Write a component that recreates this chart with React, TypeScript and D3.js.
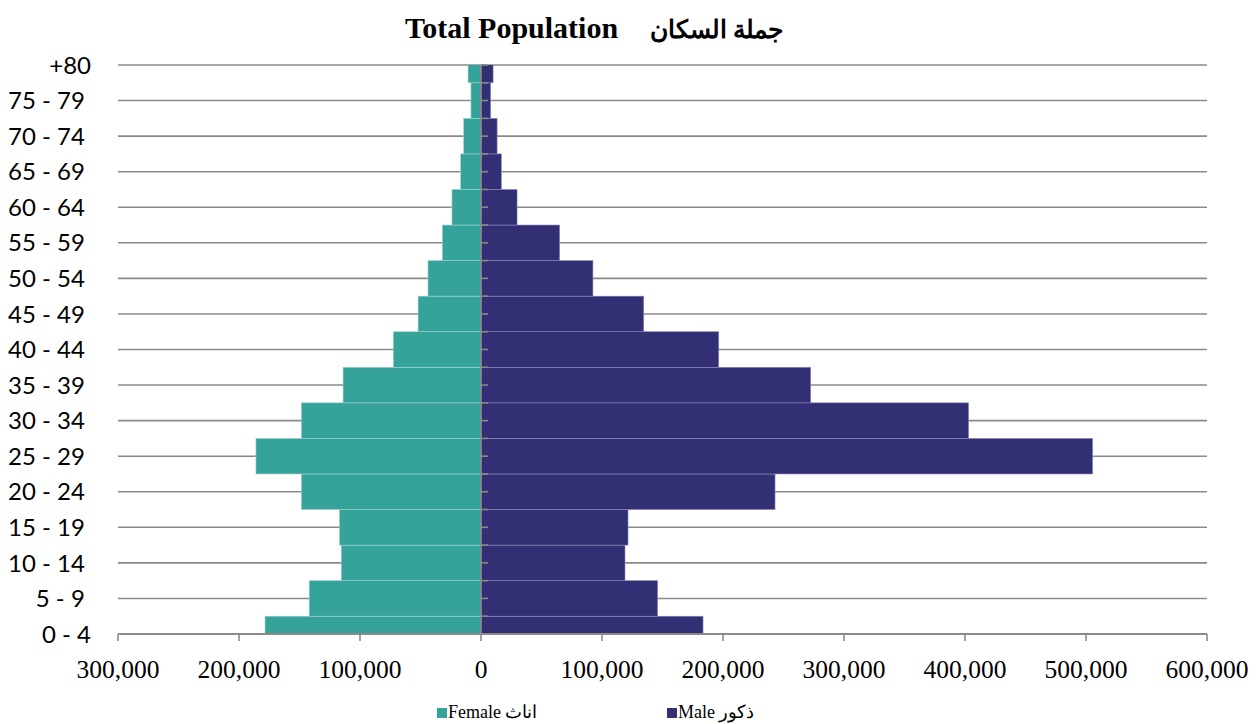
import React from 'react';
import * as d3 from 'd3';

// labels as they come from the sheet (most carry a trailing space)
const ageGroups = ['0 - 4', '5 - 9 ', '10 - 14 ', '15 - 19 ', '20 - 24 ', '25 - 29 ', '30 - 34 ', '35 - 39 ',
    '40 - 44 ', '45 - 49 ', '50 - 54 ', '55 - 59 ', '60 - 64 ', '65 - 69 ', '70 - 74 ', '75 - 79 ', '+80'];
const female = [178500, 142000, 115500, 117000, 148500, 186000, 148500, 114000,
    72500, 52000, 43800, 32000, 24000, 16800, 14300, 8300, 10700];
const male = [183500, 146000, 119000, 121500, 243000, 505500, 403000, 272500,
    196500, 134500, 92500, 65000, 29800, 16800, 13300, 8000, 10000];
const xTicks = [-300000, -200000, -100000, 0, 100000, 200000, 300000, 400000, 500000, 600000];

const W = 1260;
const H = 724;
const left = 118;
const right = 1207;
const top = 65;
const bottom = 634;

const FEMALE = '#36A39A';
const MALE = '#332F74';
const GRID = '#8a8a8a';

const App: React.FC = () => {
    const x = d3.scaleLinear().domain([-300000, 600000]).range([left, right]);
    const y = d3.scalePoint<string>().domain(ageGroups).range([bottom, top]);
    const band = y.step();
    const fmt = d3.format(',');
    const halfTicks = d3.range(0, ageGroups.length * 2 - 1).map(i => bottom - i * band / 2);

    return (
        <div style={{ position: 'absolute', left: 0, top: 0 }}>
            <svg width={W} height={H} style={{ display: 'block', background: '#fff' }}>
                <defs>
                    <clipPath id="plot">
                        <rect x={left} y={top} width={right - left} height={bottom - top} />
                    </clipPath>
                </defs>

                <text x={405} y={38} direction="ltr"
                    style={{ fontFamily: '"Liberation Serif", "DejaVu Serif", serif', fontWeight: 'bold', fontSize: 30, whiteSpace: 'pre' }}>
                    Total Population
                    <tspan x={650} style={{ fontSize: 25 }}>جملة السكان</tspan>
                </text>

                {/* gridlines */}
                {ageGroups.slice(1).map(g => (
                    <line key={g} x1={left} x2={right} y1={y(g)} y2={y(g)} stroke={GRID} strokeWidth={1.6} />
                ))}

                {/* bars */}
                <g clipPath="url(#plot)">
                    {ageGroups.map((g, i) => (
                        <rect key={'f' + g} x={x(-female[i])} y={(y(g) as number) - band / 2}
                            width={x(0) - x(-female[i])} height={band}
                            fill={FEMALE} stroke="#9fd3cf" strokeWidth={0.6} />
                    ))}
                    {ageGroups.map((g, i) => (
                        <rect key={'m' + g} x={x(0)} y={(y(g) as number) - band / 2}
                            width={x(male[i]) - x(0)} height={band}
                            fill={MALE} stroke="#8b89bd" strokeWidth={0.6} />
                    ))}
                </g>

                {/* vertical axis */}
                <line x1={x(0)} x2={x(0)} y1={top} y2={bottom} stroke={GRID} strokeWidth={1.6} />
                {halfTicks.map((t, i) => (
                    <line key={i} x1={x(0)} x2={x(0) + 7} y1={t} y2={t} stroke={GRID} strokeWidth={1.6} />
                ))}

                {/* x axis */}
                <line x1={left} x2={right} y1={bottom} y2={bottom} stroke={GRID} strokeWidth={1.8} />
                {xTicks.map(t => (
                    <g key={t}>
                        <line x1={x(t)} x2={x(t)} y1={bottom} y2={bottom + 7} stroke={GRID} strokeWidth={1.6} />
                        <text x={x(t)} y={678} textAnchor="middle"
                            style={{ fontFamily: '"Liberation Serif", serif', fontSize: 25.5 }}>
                            {fmt(Math.abs(t))}
                        </text>
                    </g>
                ))}

                {/* y labels */}
                {ageGroups.map(g => (
                    <text key={g} x={91} y={y(g)} dy="0.36em" textAnchor="end"
                        style={{ fontFamily: 'Lato, "Open Sans", sans-serif', fontSize: 24, whiteSpace: 'pre' }}>
                        {g}
                    </text>
                ))}

                {/* legend */}
                <rect x={437} y={708} width={10} height={10} fill={FEMALE} />
                <text x={448} y={718} direction="ltr" style={{ fontFamily: '"Liberation Serif", serif', fontSize: 18 }}>
                    Female اناث
                </text>
                <rect x={667} y={708} width={10} height={10} fill={MALE} />
                <text x={678} y={718} direction="ltr" style={{ fontFamily: '"Liberation Serif", serif', fontSize: 18 }}>
                    Male ذكور
                </text>
            </svg>
        </div>
    );
};

export default App;
